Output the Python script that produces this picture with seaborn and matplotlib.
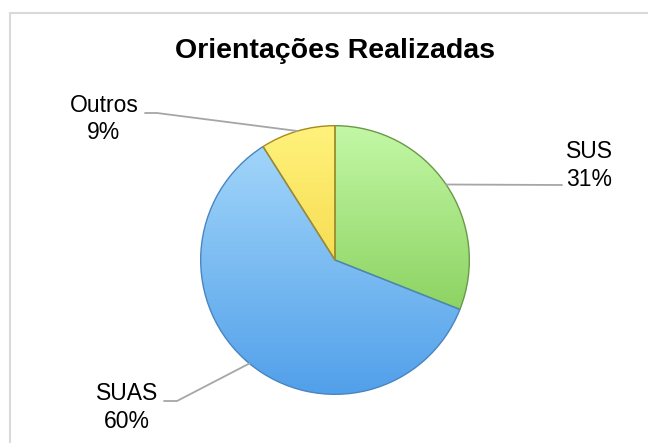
import numpy as np
import matplotlib
matplotlib.use("Agg")
import matplotlib.pyplot as plt
import seaborn as sns
from matplotlib.colors import LinearSegmentedColormap
from matplotlib.lines import Line2D
from matplotlib.patches import Rectangle, Wedge

# ---- data ----
title = "Orientações Realizadas"
categories = ["SUS", "SUAS", "Outros"]
values = [31, 60, 9]
pct_labels = ["31%", "60%", "9%"]

# ---- style ----
sns.set_theme(style="white")
plt.rcParams["font.family"] = ["Liberation Sans", "DejaVu Sans"]

W, H = 648, 443
fig = plt.figure(figsize=(W / 100, H / 100), dpi=100)
fig.patch.set_facecolor("white")

def fpx(x, y):
    """figure pixel (top-left origin) -> figure fraction"""
    return x / W, 1 - y / H

# chart border
fig.add_artist(Rectangle(fpx(9.5, 700), 700 / W, (700 - 12.5) / H,
                         transform=fig.transFigure, fill=False,
                         edgecolor="#d9d9d9", linewidth=1.5))

# pie axes: center (335, 260) px, radius 137 px
cx, cy, r = 335, 260, 137
ax = fig.add_axes([(cx - r) / W, (H - cy - r) / H, 2 * r / W, 2 * r / H])

light = ["#c3f8a6", "#a8dafb", "#fff27c"]
dark = ["#74c243", "#52a0ea", "#efc82a"]
edges = ["#6a9a48", "#4a86c0", "#a88a20"]

wedges, _ = ax.pie(values, startangle=90, counterclock=False,
                   colors=dark, radius=1.0,
                   wedgeprops=dict(linewidth=0))
ax.set_aspect("equal")
ax.axis("off")

grad = np.linspace(0, 1, 256).reshape(-1, 1)
for w, lc, dc, ec in zip(wedges, light, dark, edges):
    cmap = LinearSegmentedColormap.from_list("g", [lc, dc])
    im = ax.imshow(grad, extent=[-1, 1, -1, 1], origin="upper", cmap=cmap,
                   aspect="auto", zorder=w.get_zorder() + 0.1,
                   interpolation="bilinear")
    im.set_clip_path(w)
    ax.add_patch(Wedge(w.center, w.r, w.theta1, w.theta2, fill=False,
                       edgecolor=ec, linewidth=1.0,
                       zorder=w.get_zorder() + 0.2))

ax.set_xlim(-1.02, 1.02)
ax.set_ylim(-1.02, 1.02)

# title
fig.text(*fpx(335, 51), title, ha="center", va="center",
         fontsize=20.5, fontweight="bold", color="black")

# labels with leader lines
label_pos = {"SUS": (589, 165.5), "SUAS": (127, 407.5), "Outros": (104, 119)}
leader = {"SUS": [(562, 185)], "SUAS": [(177, 401), (164, 401)],
          "Outros": [(157, 113), (145, 113)]}

fig.canvas.draw()
to_fig = fig.transFigure.inverted()
for w, cat, pct in zip(wedges, categories, pct_labels):
    mid = np.deg2rad((w.theta1 + w.theta2) / 2)
    p0 = to_fig.transform(ax.transData.transform((np.cos(mid), np.sin(mid))))
    pts = [p0] + [fpx(*p) for p in leader[cat]]
    fig.add_artist(Line2D([p[0] for p in pts], [p[1] for p in pts],
                          transform=fig.transFigure,
                          color="#a6a6a6", linewidth=1.3, zorder=1))
    tx, ty = label_pos[cat]
    fig.text(*fpx(tx, ty), f"{cat}\n{pct}", ha="center", va="center",
             multialignment="center", fontsize=16.5, linespacing=1.25,
             color="black")

fig.savefig("out.png", dpi=100, facecolor="white")
